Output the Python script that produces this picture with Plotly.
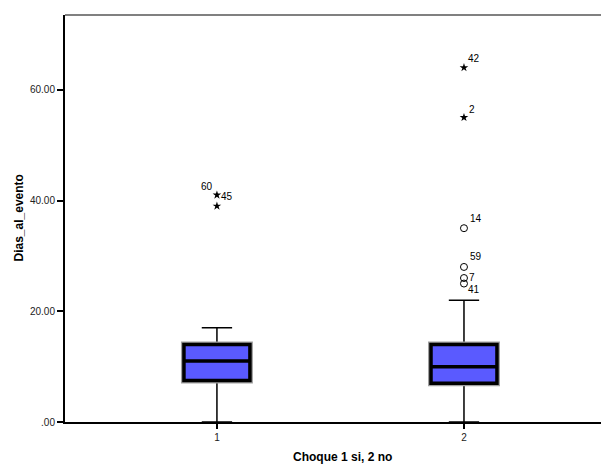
import plotly.graph_objects as go

# ---- data ----
groups = [1, 2]
group_labels = ["1", "2"]
q1 = [7.5, 7.0]
median = [11.0, 10.0]
q3 = [14.0, 14.0]
lower_whisker = [0.0, 0.0]
upper_whisker = [17.0, 22.0]

# outliers: group, value, case id, kind
out_group = [1, 1, 2, 2, 2, 2, 2, 2]
out_value = [41, 39, 64, 55, 35, 28, 26, 25]
out_label = ["45", "60", "42", "2", "14", "59", "7", "41"]
out_extreme = [True, True, True, True, False, False, False, False]

ytick_vals = [0, 20, 40, 60]
ytick_text = [".00", "20.00", "40.00", "60.00"]

x_title = "Choque 1 si, 2 no"
y_title = "Dias_al_evento"

# ---- style ----
label_shift = [(10, -2), (-10, 20), (10, 9), (8, 8), (12, 10), (12, 10), (8, 1), (10, -6)]
FONT = "Liberation Sans, Arial, sans-serif"
FILL = "#5a5aff"
BOXW = 0.267

fig = go.Figure()

# thin whisker layer
fig.add_trace(go.Box(
    x=groups, q1=q1, median=median, q3=q3,
    lowerfence=lower_whisker, upperfence=upper_whisker,
    width=BOXW, whiskerwidth=0.46, boxpoints=False,
    fillcolor="rgba(0,0,0,0)", line=dict(color="black", width=1.5),
    hoverinfo="skip", showlegend=False))
# gray halo
fig.add_trace(go.Box(
    x=groups, q1=q1, median=median, q3=q3,
    lowerfence=q1, upperfence=q3,
    width=BOXW, whiskerwidth=0, boxpoints=False,
    fillcolor=FILL, line=dict(color="#a0a0a0", width=6),
    hoverinfo="skip", showlegend=False))
# thick black box
fig.add_trace(go.Box(
    x=groups, q1=q1, median=median, q3=q3,
    lowerfence=q1, upperfence=q3,
    width=BOXW, whiskerwidth=0, boxpoints=False,
    fillcolor=FILL, line=dict(color="black", width=3.5),
    hoverinfo="skip", showlegend=False))

ext_x = [g for g, e in zip(out_group, out_extreme) if e]
ext_y = [v for v, e in zip(out_value, out_extreme) if e]
mid_x = [g for g, e in zip(out_group, out_extreme) if not e]
mid_y = [v for v, e in zip(out_value, out_extreme) if not e]

fig.add_trace(go.Scatter(x=ext_x, y=ext_y, mode="markers",
                         marker=dict(symbol="star", size=6.5, color="black"),
                         hoverinfo="skip", showlegend=False))
fig.add_trace(go.Scatter(x=mid_x, y=mid_y, mode="markers",
                         marker=dict(symbol="circle-open", size=7, color="black",
                                     line=dict(width=1)),
                         hoverinfo="skip", showlegend=False))

for g, v, t, (dx, dy) in zip(out_group, out_value, out_label, label_shift):
    fig.add_annotation(x=g, y=v, text=t, showarrow=False, xshift=dx, yshift=dy,
                       font=dict(family=FONT, size=10, color="black"))

# axis titles
fig.add_annotation(xref="paper", yref="paper", x=0.51, y=0, yshift=-35,
                   text="<b>" + x_title + "</b>", showarrow=False,
                   xanchor="center", yanchor="middle",
                   font=dict(family=FONT, size=12, color="black"))
fig.add_annotation(xref="paper", yref="paper", x=0, xshift=-47, y=0.5,
                   text="<b>" + y_title + "</b>", showarrow=False, textangle=-90,
                   xanchor="center", yanchor="middle",
                   font=dict(family=FONT, size=12, color="black"))

# top border
fig.add_shape(type="line", xref="paper", yref="paper", x0=0, x1=1, y0=1, y1=1,
              line=dict(color="#808080", width=2))

fig.update_layout(
    width=601, height=457,
    margin=dict(l=57, r=0, t=7, b=43, autoexpand=False),
    paper_bgcolor="white", plot_bgcolor="white",
    font=dict(family=FONT, color="#222"),
    xaxis=dict(range=[0.385, 2.587], tickvals=groups, ticktext=group_labels,
               showgrid=False, zeroline=False, showline=True, linecolor="black",
               linewidth=2, ticks="outside", ticklen=5, tickwidth=2, tickcolor="black",
               automargin=False,
               tickfont=dict(size=10, family=FONT, color="#222")),
    yaxis=dict(range=[0, 73.5], tickvals=ytick_vals, ticktext=ytick_text,
               showgrid=False, zeroline=False, showline=True, linecolor="black",
               linewidth=2, ticks="outside", ticklen=6, tickwidth=2, tickcolor="black",
               automargin=False,
               tickfont=dict(size=10, family=FONT, color="#222")),
)

fig.write_html("out.html")
